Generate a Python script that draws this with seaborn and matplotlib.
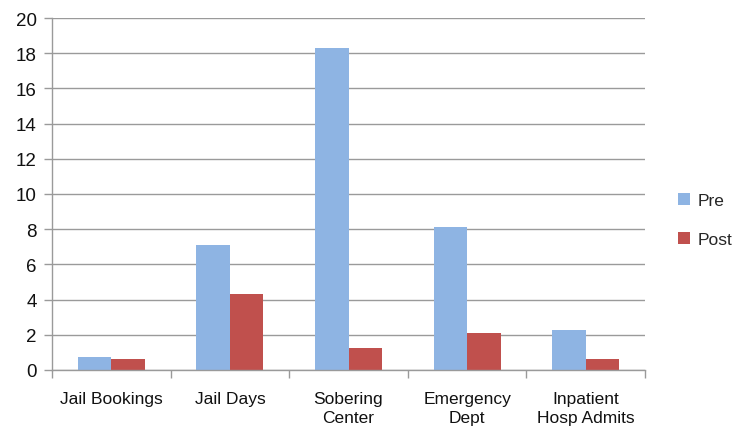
import matplotlib
matplotlib.use("Agg")
import matplotlib.pyplot as plt
import seaborn as sns
import pandas as pd
from matplotlib.patches import Patch

categories = ["Jail Bookings", "Jail Days", "Sobering\nCenter", "Emergency\nDept", "Inpatient\nHosp Admits"]
pre_values = [0.72, 7.1, 18.3, 8.1, 2.3]
post_values = [0.65, 4.3, 1.25, 2.1, 0.6]
series_names = ["Pre", "Post"]
y_ticks = list(range(0, 21, 2))

colors = ["#8EB4E3", "#C0504D"]

df = pd.DataFrame({
    "category": categories * 2,
    "value": pre_values + post_values,
    "series": [series_names[0]] * len(categories) + [series_names[1]] * len(categories),
})

sns.set_theme(style="white")
plt.rcParams["font.family"] = ["Liberation Sans", "DejaVu Sans"]

fig = plt.figure(figsize=(7.33, 4.31), dpi=100)
ax = fig.add_axes([52 / 733, 1 - 371 / 431, (645 - 52) / 733, (371 - 19) / 431])

sns.barplot(data=df, x="category", y="value", hue="series", palette=colors,
            width=0.565, saturation=1, ax=ax, legend=False, linewidth=0)

ax.set_ylim(0, 20)
ax.set_xlim(-0.5, len(categories) - 0.5)
ax.set_yticks(y_ticks)
ax.set_yticklabels([str(t) for t in y_ticks], fontsize=13.5, color="#111111")
ax.yaxis.grid(True, color="#9a9a9a", linewidth=1.0)
ax.set_axisbelow(True)

ax.set_xticks(range(len(categories)))
ax.set_xticklabels(categories, fontsize=12.5, color="#111111", linespacing=1.35)
ax.tick_params(axis="x", which="major", length=0, pad=15)
ax.set_xticks([i - 0.5 for i in range(len(categories) + 1)], minor=True)
ax.tick_params(axis="x", which="minor", length=6, color="#9a9a9a", width=1.0, bottom=True)
ax.tick_params(axis="y", length=6, color="#9a9a9a", width=1.0, left=True, pad=5)

ax.set_xlabel("")
ax.set_ylabel("")
for side in ["top", "right"]:
    ax.spines[side].set_visible(False)
for side in ["left", "bottom"]:
    ax.spines[side].set_color("#9a9a9a")
    ax.spines[side].set_linewidth(1.0)

handles = [Patch(facecolor=c, edgecolor="none") for c in colors]
fig.legend(handles, series_names, loc="center left", bbox_to_anchor=(678 / 733, 1 - 221 / 431),
           frameon=False, fontsize=12.5, handlelength=0.7, handleheight=0.7,
           labelspacing=1.35, handletextpad=0.45, borderpad=0, borderaxespad=0)

fig.savefig("out.png", dpi=100)
